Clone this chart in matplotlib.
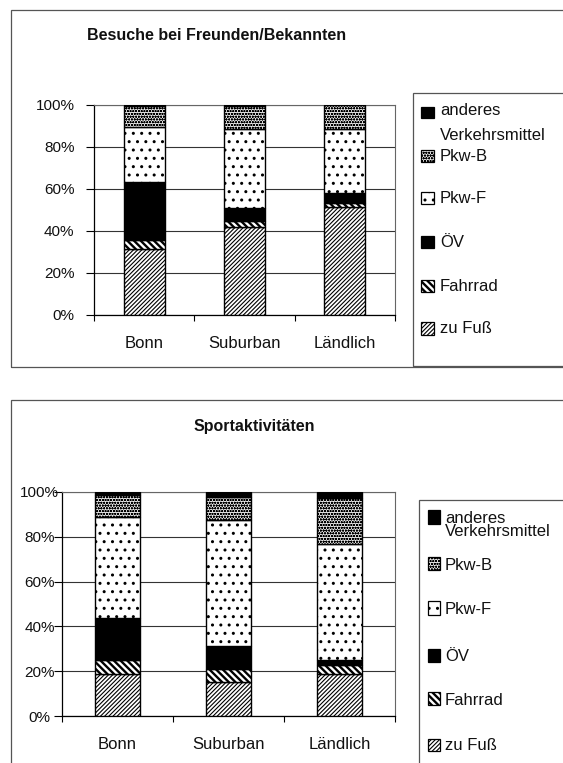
import matplotlib
matplotlib.use('Agg')
import matplotlib.pyplot as plt
from matplotlib.patches import Rectangle
import numpy as np

plt.rcParams['font.family'] = ['Liberation Sans', 'DejaVu Sans']

W, H = 563, 763

categories = ['Bonn', 'Suburban', 'Ländlich']
modes = ['zu Fuß', 'Fahrrad', 'ÖV', 'Pkw-F', 'Pkw-B', 'anderes\nVerkehrsmittel']

# Besuche bei Freunden/Bekannten, shares in percent
besuche_zu_fuss = [31.4, 42.1, 51.6]
besuche_fahrrad = [4.3, 2.7, 1.6]
besuche_oev = [27.8, 6.0, 5.0]
besuche_pkw_f = [25.9, 37.6, 30.4]
besuche_pkw_b = [10.1, 11.1, 11.4]
besuche_anderes = [0.5, 0.5, 0.0]

# Sportaktivitäten, shares in percent
sport_zu_fuss = [18.9, 15.4, 18.9]
sport_fahrrad = [5.9, 5.7, 3.7]
sport_oev = [19.1, 10.1, 2.2]
sport_pkw_f = [44.8, 56.3, 52.1]
sport_pkw_b = [10.0, 10.3, 20.3]
sport_anderes = [1.3, 2.2, 2.8]

yticks = [0, 20, 40, 60, 80, 100]

# fill style per mode: facecolor, hatch, hatch line width
STYLE = {
    'zu Fuß': ('white', '////////', 0.8),
    'Fahrrad': ('white', '\\\\\\\\\\', 1.7),
    'ÖV': ('black', None, 1.0),
    'Pkw-F': ('white', '..', 1.0),
    'Pkw-B': ('#e8e8e8', 'oooooo', 0.6),
    'anderes\nVerkehrsmittel': ('black', None, 1.0),
}


def fx(x):
    return x / W


def fy(y):
    return 1 - y / H


def set_hatch_lw(p, lw):
    if hasattr(p, 'set_hatch_linewidth'):
        p.set_hatch_linewidth(lw)


fig = plt.figure(figsize=(W / 100, H / 100), dpi=100)
fig.patch.set_facecolor('white')


def frame(x0, y0, x1, y1):
    r = Rectangle((fx(x0), fy(y1)), fx(x1) - fx(x0), fy(y0) - fy(y1),
                  transform=fig.transFigure, fill=False, edgecolor='#555555',
                  linewidth=0.9, clip_on=False)
    fig.add_artist(r)


def draw_chart(rect, series, title, title_xy, yl_ha, yl_pad, legend):
    ax = fig.add_axes(rect)
    x = np.arange(len(categories))
    bottom = np.zeros(len(categories))
    for mode, vals in zip(modes, series):
        fc, h, hlw = STYLE[mode]
        vals = np.asarray(vals, dtype=float)
        bars = ax.bar(x, vals, width=0.41, bottom=bottom, color=fc,
                      edgecolor='black', hatch=h, linewidth=1.0, zorder=3)
        for b in bars:
            set_hatch_lw(b, hlw)
        bottom += vals

    ax.set_xlim(-0.5, len(categories) - 0.5)
    ax.set_ylim(0, 100)
    ax.set_yticks(yticks)
    ax.set_yticklabels([f'{v}%' for v in yticks], fontsize=11, color='#111111')
    for lbl in ax.get_yticklabels():
        lbl.set_ha(yl_ha)
    ax.tick_params(axis='y', direction='out', length=5.5, width=0.8,
                   pad=yl_pad, color='black')
    ax.set_xticks(x)
    ax.set_xticklabels(categories, fontsize=12, color='#111111')
    ax.tick_params(axis='x', which='major', length=0, pad=15)
    ax.set_xticks(np.arange(len(categories) + 1) - 0.5, minor=True)
    ax.tick_params(axis='x', which='minor', direction='out', length=4.5,
                   width=0.8, color='black')
    ax.yaxis.grid(True, color='#333333', linewidth=0.8)
    ax.set_axisbelow(True)
    for s in ('left', 'bottom'):
        ax.spines[s].set_color('black')
        ax.spines[s].set_linewidth(0.9)
    for s in ('top', 'right'):
        ax.spines[s].set_color('#666666')
        ax.spines[s].set_linewidth(0.8)

    fig.text(fx(title_xy[0]), fy(title_xy[1]), title, ha='center',
             va='center', fontsize=11.5, fontweight='bold', color='#111111')

    # legend box and entries, top entry first
    box, mx, mw, tx, rows, second_gap = legend
    frame(*box)
    order = list(reversed(modes))
    for mode, (ybase, mtop, mbot) in zip(order, rows):
        fc, h, hlw = STYLE[mode]
        p = Rectangle((fx(mx), fy(mbot)), fx(mw), fy(mtop) - fy(mbot),
                      transform=fig.transFigure, facecolor=fc,
                      edgecolor='black', hatch=h, linewidth=0.9)
        set_hatch_lw(p, hlw)
        fig.add_artist(p)
        lines = mode.split('\n')
        for i, line in enumerate(lines):
            fig.text(fx(tx), fy(ybase + i * second_gap), line, ha='left',
                     va='baseline', fontsize=12, color='#111111')
    return ax


# outer chart frames
frame(11, 9.5, 600, 367)
frame(11, 399.5, 600, 800)

top_rect = [fx(94), fy(315), fx(395) - fx(94), fy(105) - fy(315)]
bot_rect = [fx(62), fy(716), fx(395) - fx(62), fy(492) - fy(716)]

top_rows = [(115, 107.5, 118), (161, 149.5, 161.5), (203, 191.5, 203.5),
            (247, 235.5, 248), (291, 280, 292), (333, 322, 334.5)]
bot_rows = [(523, 509.5, 523.5), (570, 557, 570), (614, 601, 614.5),
            (661, 648.5, 661.5), (705, 692, 705), (750, 738.5, 750.5)]

draw_chart(top_rect,
           [besuche_zu_fuss, besuche_fahrrad, besuche_oev, besuche_pkw_f,
            besuche_pkw_b, besuche_anderes],
           'Besuche bei Freunden/Bekannten', (217, 36), 'right', 8.5,
           ((413, 93, 600, 366), 421, 13, 440, top_rows, 25))

draw_chart(bot_rect,
           [sport_zu_fuss, sport_fahrrad, sport_oev, sport_pkw_f,
            sport_pkw_b, sport_anderes],
           'Sportaktivitäten', (254.6, 427), 'center', 10.5,
           ((419, 499.5, 600, 800), 427.5, 12, 445, bot_rows, 13.5))

fig.savefig('out.png', dpi=100, facecolor='white')
